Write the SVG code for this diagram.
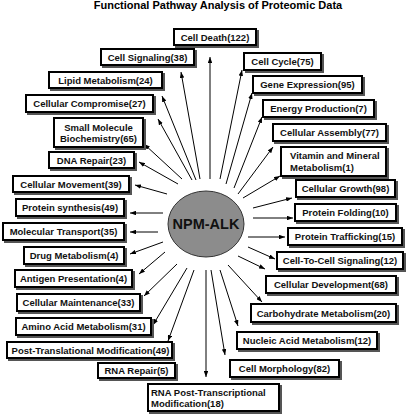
<svg xmlns="http://www.w3.org/2000/svg" width="406" height="414" viewBox="0 0 406 414">
<style>
.box rect.b{fill:#fff;stroke:#000;stroke-width:2}
.box rect.s{fill:#555}
.t{font-family:"Liberation Sans",Arial,sans-serif;font-weight:bold;font-size:9.5px;fill:#111;text-anchor:middle}
.l{text-anchor:start}
.title{font-family:"Liberation Sans",Arial,sans-serif;font-weight:bold;font-size:11px;fill:#000;text-anchor:middle}
.conn line{stroke:#000;stroke-width:1;marker-end:url(#ah)}
</style>
<defs>
<marker id="ah" viewBox="0 0 8 6" refX="8" refY="3" markerWidth="6" markerHeight="4.5" markerUnits="userSpaceOnUse" orient="auto">
<path d="M0,0 L8,3 L0,6 Z" fill="#000"/>
</marker>
</defs>
<rect width="406" height="414" fill="#fff"/>
<text class="title" x="218" y="8.5">Functional Pathway Analysis of Proteomic Data</text>
<g class="conn" id="connectors">
<line x1="210" y1="179" x2="210" y2="57"/>
<line x1="200" y1="179" x2="181" y2="72"/>
<line x1="196" y1="180" x2="162" y2="96"/>
<line x1="192" y1="180" x2="158" y2="119"/>
<line x1="182" y1="179" x2="144" y2="144"/>
<line x1="178" y1="184" x2="139" y2="162"/>
<line x1="167" y1="194" x2="135" y2="185"/>
<line x1="163" y1="213" x2="130" y2="213"/>
<line x1="158" y1="232" x2="130" y2="232"/>
<line x1="163" y1="242" x2="130" y2="254"/>
<line x1="165" y1="252" x2="139" y2="274"/>
<line x1="177" y1="264" x2="144" y2="296"/>
<line x1="187" y1="268" x2="153" y2="325"/>
<line x1="194" y1="270" x2="168" y2="341"/>
<line x1="206" y1="270" x2="206" y2="377"/>
<line x1="211" y1="270" x2="225" y2="355"/>
<line x1="220" y1="270" x2="238" y2="326"/>
<line x1="228" y1="265" x2="262" y2="302"/>
<line x1="238" y1="256" x2="265" y2="269"/>
<line x1="248" y1="247" x2="275" y2="259"/>
<line x1="248" y1="237" x2="285" y2="237"/>
<line x1="253" y1="218" x2="293" y2="218"/>
<line x1="253" y1="208" x2="292" y2="198"/>
<line x1="243" y1="198" x2="280" y2="176"/>
<line x1="238" y1="194" x2="273" y2="147"/>
<line x1="234" y1="188" x2="262" y2="117"/>
<line x1="226" y1="184" x2="252" y2="93"/>
<line x1="220" y1="179" x2="242" y2="70"/>
</g>
<g id="center">
<ellipse cx="206" cy="224" rx="38" ry="33" fill="#8c8c8c" stroke="#333" stroke-width="1"/>
<text class="t" style="font-size:14.5px" x="206" y="229">NPM-ALK</text>
</g>
<g class="box" id="n1"><rect class="s" x="175" y="30" width="84" height="18"/><rect class="b" x="174" y="29" width="82" height="16"/><text class="t" x="215" y="40.5">Cell Death(122)</text></g>
<g class="box" id="n2"><rect class="s" x="102" y="50" width="95" height="18"/><rect class="b" x="101" y="49" width="93" height="16"/><text class="t" x="147.5" y="60.5">Cell Signaling(38)</text></g>
<g class="box" id="n3"><rect class="s" x="50" y="73" width="115" height="18"/><rect class="b" x="49" y="72" width="113" height="16"/><text class="t" x="105.5" y="83.5">Lipid Metabolism(24)</text></g>
<g class="box" id="n4"><rect class="s" x="27" y="96" width="129" height="19"/><rect class="b" x="26" y="95" width="127" height="17"/><text class="t" x="89.5" y="107">Cellular Compromise(27)</text></g>
<g class="box" id="n5"><rect class="s" x="55" y="119" width="91" height="31"/><rect class="b" x="54" y="118" width="89" height="29"/><text class="t" x="98.5" y="130.5">Small Molecule</text><text class="t" x="98.5" y="142">Biochemistry(65)</text></g>
<g class="box" id="n6"><rect class="s" x="50" y="153" width="87" height="18"/><rect class="b" x="49" y="152" width="85" height="16"/><text class="t" x="91.5" y="163.5">DNA Repair(23)</text></g>
<g class="box" id="n7"><rect class="s" x="14" y="177" width="118" height="18"/><rect class="b" x="13" y="176" width="116" height="16"/><text class="t" x="71" y="187.5">Cellular Movement(39)</text></g>
<g class="box" id="n8"><rect class="s" x="17" y="200" width="110" height="19"/><rect class="b" x="16" y="199" width="108" height="17"/><text class="t" x="70" y="211">Protein synthesis(49)</text></g>
<g class="box" id="n9"><rect class="s" x="4" y="224" width="123" height="19"/><rect class="b" x="3" y="223" width="121" height="17"/><text class="t" x="63.5" y="235">Molecular Transport(35)</text></g>
<g class="box" id="n10"><rect class="s" x="25" y="248" width="102" height="19"/><rect class="b" x="24" y="247" width="100" height="17"/><text class="t" x="74" y="259">Drug Metabolism(4)</text></g>
<g class="box" id="n11"><rect class="s" x="16" y="271" width="119" height="19"/><rect class="b" x="15" y="270" width="117" height="17"/><text class="t" x="73.5" y="282">Antigen Presentation(4)</text></g>
<g class="box" id="n12"><rect class="s" x="18" y="295" width="125" height="19"/><rect class="b" x="17" y="294" width="123" height="17"/><text class="t" x="78.5" y="306">Cellular Maintenance(33)</text></g>
<g class="box" id="n13"><rect class="s" x="17" y="319" width="137" height="19"/><rect class="b" x="16" y="318" width="135" height="17"/><text class="t" x="83.5" y="330">Amino Acid Metabolism(31)</text></g>
<g class="box" id="n14"><rect class="s" x="8" y="343" width="167" height="18"/><rect class="b" x="7" y="342" width="165" height="16"/><text class="t" x="90.5" y="353.5">Post-Translational Modification(49)</text></g>
<g class="box" id="n15"><rect class="s" x="99" y="364" width="79" height="17"/><rect class="b" x="98" y="363" width="77" height="15"/><text class="t" x="136.5" y="374">RNA Repair(5)</text></g>
<g class="box" id="n16"><rect class="s" x="149" y="385" width="133" height="29"/><rect class="b" x="148" y="384" width="131" height="27"/><text class="t l" x="151" y="396">RNA Post-Transcriptional</text><text class="t l" x="151" y="407">Modification(18)</text></g>
<g class="box" id="n17"><rect class="s" x="245" y="54" width="79" height="19"/><rect class="b" x="244" y="53" width="77" height="17"/><text class="t" x="282.5" y="65">Cell Cycle(75)</text></g>
<g class="box" id="n18"><rect class="s" x="254" y="77" width="111" height="19"/><rect class="b" x="253" y="76" width="109" height="17"/><text class="t" x="307.5" y="88">Gene Expression(95)</text></g>
<g class="box" id="n19"><rect class="s" x="264" y="101" width="113" height="19"/><rect class="b" x="263" y="100" width="111" height="17"/><text class="t" x="318.5" y="112">Energy Production(7)</text></g>
<g class="box" id="n20"><rect class="s" x="274" y="125" width="115" height="19"/><rect class="b" x="273" y="124" width="113" height="17"/><text class="t" x="329.5" y="136">Cellular Assembly(77)</text></g>
<g class="box" id="n21"><rect class="s" x="282" y="148" width="107" height="31"/><rect class="b" x="281" y="147" width="105" height="29"/><text class="t l" x="290" y="159">Vitamin and Mineral</text><text class="t l" x="290" y="170.5">Metabolism(1)</text></g>
<g class="box" id="n22"><rect class="s" x="297" y="181" width="101" height="19"/><rect class="b" x="296" y="180" width="99" height="17"/><text class="t" x="345.5" y="192">Cellular Growth(98)</text></g>
<g class="box" id="n23"><rect class="s" x="296" y="205" width="103" height="19"/><rect class="b" x="295" y="204" width="101" height="17"/><text class="t" x="345.5" y="216">Protein Folding(10)</text></g>
<g class="box" id="n24"><rect class="s" x="289" y="229" width="116" height="19"/><rect class="b" x="288" y="228" width="114" height="17"/><text class="t" x="345" y="240">Protein Trafficking(15)</text></g>
<g class="box" id="n25"><rect class="s" x="278" y="253" width="128" height="19"/><rect class="b" x="277" y="252" width="126" height="17"/><text class="t" x="340" y="264">Cell-To-Cell Signaling(12)</text></g>
<g class="box" id="n26"><rect class="s" x="267" y="277" width="132" height="19"/><rect class="b" x="266" y="276" width="130" height="17"/><text class="t" x="331" y="288">Cellular Development(68)</text></g>
<g class="box" id="n27"><rect class="s" x="252" y="305" width="147" height="20"/><rect class="b" x="251" y="304" width="145" height="18"/><text class="t" x="323.5" y="316.5">Carbohydrate Metabolism(20)</text></g>
<g class="box" id="n28"><rect class="s" x="238" y="333" width="142" height="19"/><rect class="b" x="237" y="332" width="140" height="17"/><text class="t" x="307" y="344">Nucleic Acid Metabolism(12)</text></g>
<g class="box" id="n29"><rect class="s" x="231" y="361" width="111" height="19"/><rect class="b" x="230" y="360" width="109" height="17"/><text class="t" x="284.5" y="372">Cell Morphology(82)</text></g>
</svg>
